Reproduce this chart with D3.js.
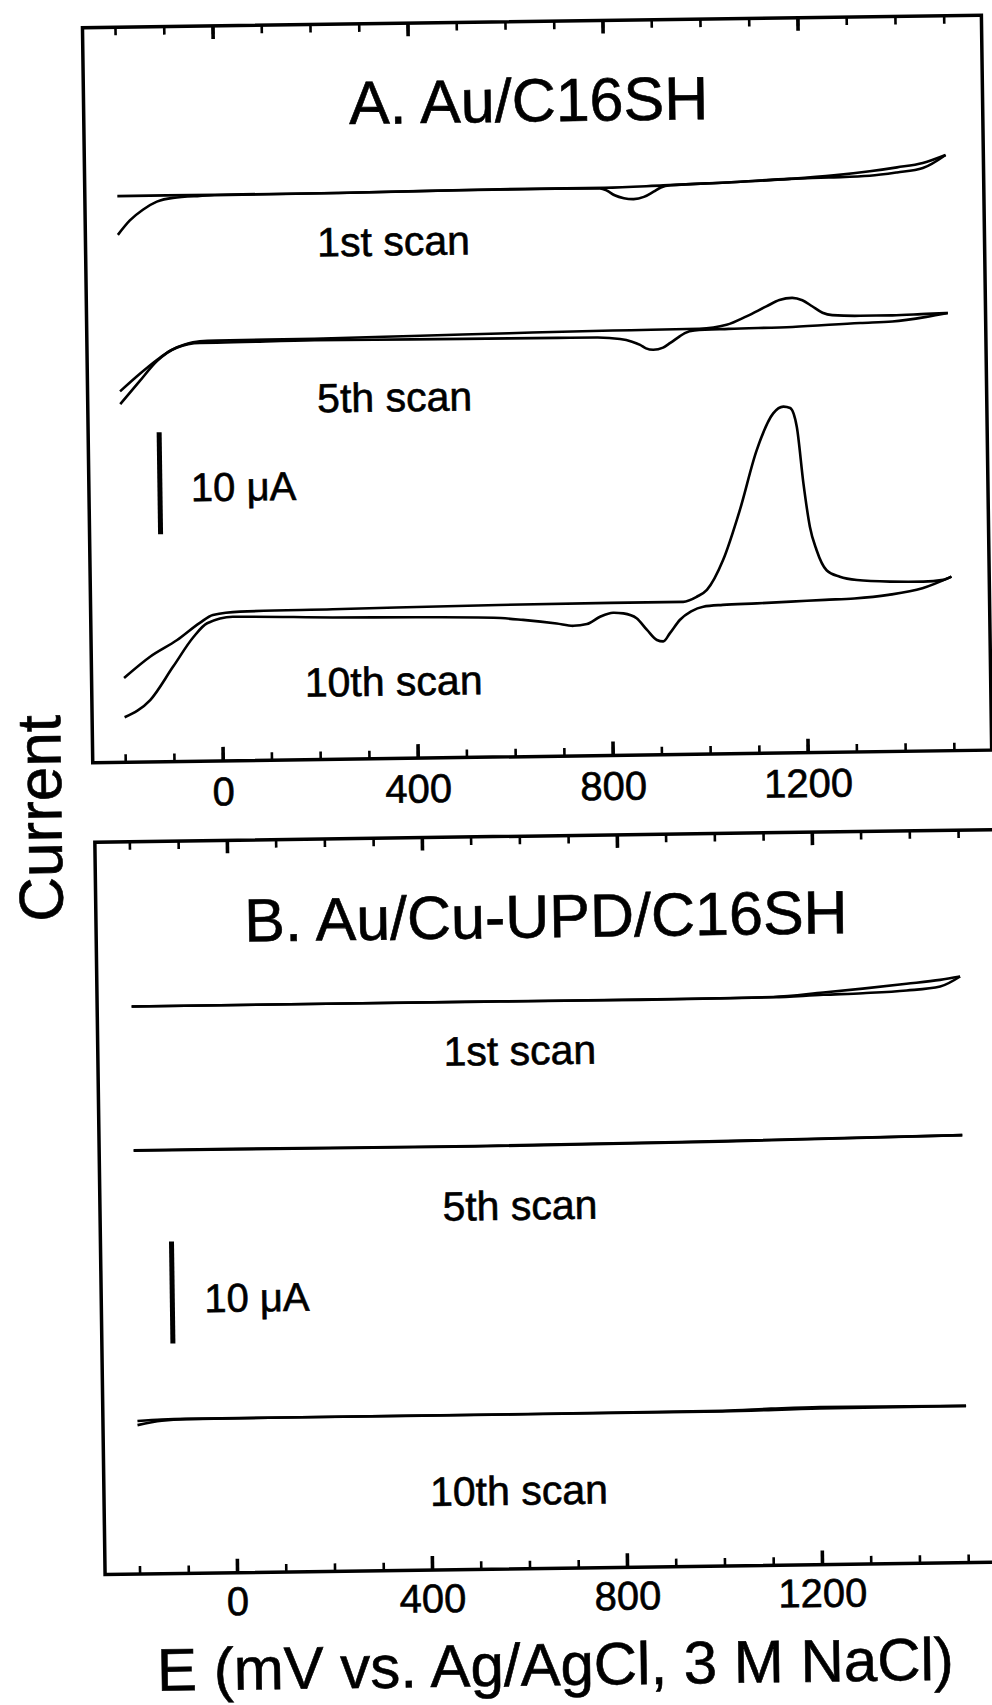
<!DOCTYPE html>
<html>
<head>
<meta charset="utf-8">
<script src="https://cdn.jsdelivr.net/npm/d3@7"></script>
<style>
body { margin: 0; background: #fff; }
svg text { font-family: "Liberation Sans", Arial, Helvetica, sans-serif; fill: #000; stroke: #000; stroke-width: 0.6px; }
</style>
</head>
<body>
<svg id="chart" width="992" height="1705"></svg>
<script>
// ---- data: [E (mV), I (µA)] ----
var panelTitles = ["A. Au/C16SH", "B. Au/Cu-UPD/C16SH"];
var scanNames = ["1st scan", "5th scan", "10th scan"];
var majorTicks = [0, 400, 800, 1200];
var minorTicks = [-200, -100, 0, 100, 200, 300, 400, 500, 600, 700, 800, 900, 1000, 1100, 1200, 1300, 1400, 1500];
var xTitle = "E (mV vs. Ag/AgCl, 3 M NaCl)";
var yTitle = "Current";
var barLabel = "10 μA";

// vertical stacking of the scans inside each panel (µA)
var offsetsA = [40.9, 26.5, 0];
var offsetsB = [40.5, 26.4, 0];

// panel A, Au/C16SH
var a1Fwd = [[-200,0],[-100,0],[0,0],[250,0],[585,0.15],[800,0.15],[920,0.3],[1050,0.5],[1180,0.77],[1270,1.05],[1344,1.4],[1400,1.75],[1453,2.15],[1500,2.9]];
var a1Rev = [[1500,2.9],[1453,1.65],[1400,1.25],[1344,0.96],[1260,0.85],[1180,0.77],[1050,0.5],[935,0.3],[915,0.1],[900,-0.3],[880,-0.8],[859,-1.0],[839,-0.9],[820,-0.6],[805,-0.15],[790,0.1],[700,0.12],[500,0.1],[250,0],[0,-0.05],[-31,-0.1],[-86,-0.25],[-119,-0.6],[-148,-1.37],[-175,-2.4],[-200,-3.8]];
var a5Fwd = [[-200,-4.75],[-160,-3.1],[-123,-1.7],[-95,-0.8],[-66,-0.25],[-35,0.05],[0,0.1],[200,0.15],[400,0.28],[600,0.42],[750,0.52],[850,0.55],[990,0.6],[1046,0.95],[1087,1.75],[1128,2.7],[1155,3.3],[1181,3.5],[1202,3.25],[1222,2.65],[1243,2.0],[1263,1.75],[1320,1.65],[1386,1.65],[1456,1.75],[1500,1.8]];
var a5Rev = [[1500,1.8],[1456,1.45],[1386,1.05],[1320,0.95],[1181,0.65],[1050,0.55],[980,0.45],[960,0.2],[950,-0.1],[930,-0.75],[915,-1.2],[895,-1.4],[880,-1.25],[868,-0.9],[850,-0.55],[827,-0.3],[780,-0.12],[700,-0.1],[600,-0.08],[400,-0.05],[200,0],[0,-0.1],[-35,-0.1],[-83,-0.55],[-124,-1.85],[-160,-3.8],[-200,-6.0]];
var a10Fwd = [[-200,-6.35],[-146,-4.3],[-90,-2.7],[-43,-1.05],[-16,-0.3],[40,0],[230,0.1],[570,0.3],[800,0.35],[949,0.35],[977,0.83],[998,1.5],[1032,4.4],[1068,9.3],[1104,15.1],[1139,18.7],[1160,19.35],[1174,19.2],[1187,17.35],[1199,11.8],[1211,7.55],[1224,5.25],[1244,3.25],[1271,2.6],[1306,2.25],[1374,2.05],[1442,2.0],[1483,2.15],[1500,2.45]];
var a10Rev = [[1500,2.45],[1440,1.35],[1370,0.75],[1300,0.45],[1240,0.35],[1170,0.22],[1100,0.1],[1030,0],[990,-0.15],[965,-0.6],[942,-1.4],[921,-2.7],[907,-3.5],[894,-3.35],[874,-2.35],[853,-1.2],[826,-0.7],[805,-0.62],[778,-1.0],[751,-1.7],[723,-1.85],[689,-1.6],[620,-1.2],[560,-0.95],[400,-0.8],[230,-0.7],[25,-0.5],[-28,-1.1],[-56,-2.4],[-99,-5.3],[-147,-8.55],[-200,-10.2]];

// panel B, Au/Cu-UPD/C16SH
var b1Fwd = [[-200,0],[200,0],[556,0],[843,-0.02],[1000,0],[1116,0.05],[1219,0.42],[1300,0.75],[1390,1.16],[1459,1.5],[1500,1.8]];
var b1Rev = [[1500,1.8],[1459,0.85],[1390,0.5],[1300,0.3],[1219,0.2],[1116,0.02],[1000,-0.02],[843,-0.05],[556,-0.02],[200,0],[-200,0]];
var b5Fwd = [[-200,0],[0,0],[500,-0.05],[1000,0.1],[1500,0.35]];
var b5Rev = [[1500,0.35],[1000,0.05],[500,-0.1],[0,-0.05],[-200,-0.05]];
var b10Fwd = [[-200,-0.15],[-150,-0.03],[-100,0],[100,0],[600,0],[1000,0.05],[1100,0.2],[1200,0.3],[1500,0.2]];
var b10Rev = [[1500,0.2],[1200,0.15],[1000,0],[600,-0.02],[100,0],[-100,-0.03],[-150,-0.15],[-200,-0.55]];

// ---- layout ----
var panels = [
    {title: panelTitles[0], scans: [[a1Fwd, a1Rev], [a5Fwd, a5Rev], [a10Fwd, a10Rev]], offsets: offsetsA,
     left: 94, right: 993, top: 22, bottom: 757, x0: 224, yZero: 608,
     titleX: 539, titleY: 122, labelX: [402, 401, 396], labelY: [254, 410, 694],
     barE: -121, barLo: 7.7, barHi: 17.7, barTextX: 196, barTextY: 497, tickPad: 16},
    {title: panelTitles[1], scans: [[b1Fwd, b1Rev], [b5Fwd, b5Rev], [b10Fwd, b10Rev]], offsets: offsetsB,
     left: 95, right: 1005, top: 836.5, bottom: 1569, x0: 227, yZero: 1414.4,
     titleX: 545, titleY: 938, labelX: [517, 515, 510], labelY: [1065, 1220, 1505],
     barE: -125, barLo: 7.4, barHi: 17.4, barTextX: 198, barTextY: 1308, tickPad: 14}
];

var svg = d3.select("#chart");
// the scanned page sits slightly tilted
var root = svg.append("g").attr("transform", "rotate(-0.8 500 850)");

panels.forEach(function (p) {
    var x = d3.scaleLinear().domain([0, 1200]).range([p.x0, p.x0 + 585]);
    var y = d3.scaleLinear().domain([0, 10]).range([p.yZero, p.yZero - 102]);
    var g = root.append("g");

    g.append("rect")
        .attr("x", p.left).attr("y", p.top)
        .attr("width", p.right - p.left).attr("height", p.bottom - p.top)
        .attr("fill", "none").attr("stroke", "#000").attr("stroke-width", 3.5);

    // minor + major ticks, bottom and top, all pointing inward
    var axes = [
        {gen: d3.axisBottom(x).tickValues(minorTicks).tickSize(-8).tickFormat(""), at: p.bottom, w: 2.6},
        {gen: d3.axisBottom(x).tickValues(majorTicks).tickSize(-14).tickPadding(p.tickPad).tickFormat(d3.format("d")), at: p.bottom, w: 3.6},
        {gen: d3.axisTop(x).tickValues(minorTicks).tickSize(-8).tickFormat(""), at: p.top, w: 2.6},
        {gen: d3.axisTop(x).tickValues(majorTicks).tickSize(-13).tickFormat(""), at: p.top, w: 3.6}
    ];
    axes.forEach(function (a) {
        var ax = g.append("g")
            .attr("transform", "translate(0," + a.at + ")")
            .call(a.gen);
        ax.select(".domain").remove();
        ax.selectAll("line").attr("stroke", "#000").attr("stroke-width", a.w);
        ax.selectAll("text")
            .attr("font-size", 40)
            .attr("font-family", "'Liberation Sans', Arial, Helvetica, sans-serif")
            .attr("fill", "#000");
    });

    g.append("text")
        .attr("x", p.titleX).attr("y", p.titleY)
        .attr("text-anchor", "middle")
        .attr("font-size", 61)
        .text(p.title);

    var line = d3.line()
        .x(function (d) { return x(d[0]); })
        .curve(d3.curveMonotoneX);

    p.scans.forEach(function (branches, i) {
        line.y(function (d) { return y(d[1] + p.offsets[i]); });
        branches.forEach(function (b) {
            var pts = b.slice().sort(function (m, n) { return m[0] - n[0]; });
            g.append("path")
                .attr("d", line(pts))
                .attr("fill", "none")
                .attr("stroke", "#000")
                .attr("stroke-width", 2.6)
                .attr("stroke-linejoin", "round");
        });
        g.append("text")
            .attr("x", p.labelX[i]).attr("y", p.labelY[i])
            .attr("text-anchor", "middle")
            .attr("font-size", 41)
            .text(scanNames[i]);
    });

    // 10 µA scale bar
    g.append("line")
        .attr("x1", x(p.barE)).attr("x2", x(p.barE))
        .attr("y1", y(p.barLo)).attr("y2", y(p.barHi))
        .attr("stroke", "#000").attr("stroke-width", 5);
    g.append("text")
        .attr("x", p.barTextX).attr("y", p.barTextY)
        .attr("font-size", 40)
        .text(barLabel);
});

root.append("text")
    .attr("transform", "translate(62,812) rotate(-90)")
    .attr("text-anchor", "middle")
    .attr("font-size", 62)
    .text(yTitle);

root.append("text")
    .attr("x", 544).attr("y", 1686)
    .attr("text-anchor", "middle")
    .attr("font-size", 60)
    .text(xTitle);
</script>
</body>
</html>
